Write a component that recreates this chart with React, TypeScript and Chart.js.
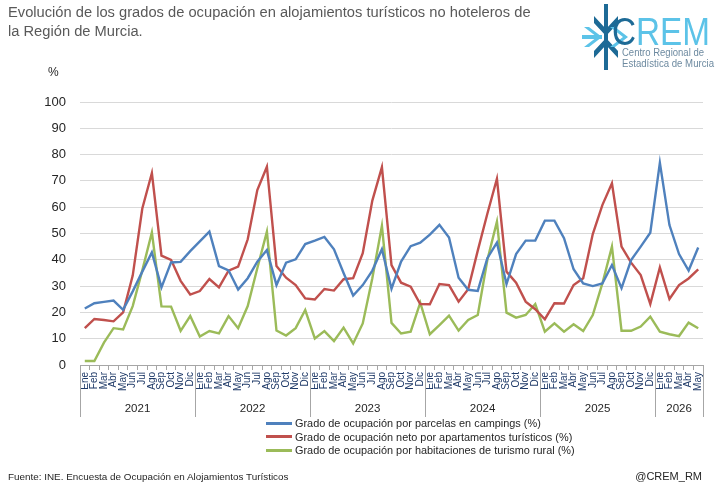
import React, { useEffect, useRef } from "react";
import { Chart, registerables } from "chart.js";

Chart.register(...registerables);

// ---------- DATA ----------
const MONTHS = ["Ene", "Feb", "Mar", "Abr", "May", "Jun", "Jul", "Ago", "Sep", "Oct", "Nov", "Dic"];
const YEARS = ["2021", "2022", "2023", "2024", "2025", "2026"];
const MONTHS_IN_LAST_YEAR = 5;

const monthLabels: string[] = [];
YEARS.forEach((_, k) => {
  const count = k === YEARS.length - 1 ? MONTHS_IN_LAST_YEAR : 12;
  for (let m = 0; m < count; m++) monthLabels.push(MONTHS[m]);
});

// Grado de ocupación por parcelas en campings (%)
const campings = [
  21.5, 23.5, 24, 24.5, 21, 28, 35.5, 42.8, 29.5, 39, 39.2, 43.3,
  47, 50.7, 37.6, 36, 28.7, 33, 39.3, 43.7, 30.4, 38.9, 40.2, 46,
  47.3, 48.7, 44, 35, 26.4, 30.4, 35.9, 44, 29, 39.3, 45.2, 46.5,
  49.6, 53.3, 48.5, 33.2, 28.6, 28.2, 40.6, 46.5, 30.8, 42.2, 47.3, 47.3,
  54.9, 54.9, 48.2, 36.4, 31, 30, 31, 38, 29.2, 39.9, 45, 50.3,
  76.9, 53.2, 42.2, 35.9, 44.7,
];

// Grado de ocupación neto por apartamentos turísticos (%)
const apartamentos = [
  14, 17.5, 17.1, 16.6, 20, 34, 59.5, 73, 41.6, 40, 32, 26.8,
  28.1, 32.7, 29.5, 35.9, 37.4, 47.8, 66.5, 75.4, 37.6, 33.2, 30.4, 25.3,
  24.9, 28.9, 28.3, 32.6, 33, 42.5, 62.5, 75.2, 38, 31.3, 29.8, 23.2,
  23.1, 30.8, 30.4, 24.1, 28.8, 43.5, 57.5, 70.8, 35.5, 31.3, 24.1, 21.2,
  17.4, 23.5, 23.4, 30.4, 33, 49.8, 60.8, 69.1, 45, 38.9, 34.2, 23.2,
  37.1, 25.1, 30.4, 32.9, 36.4,
];

// Grado de ocupación por habitaciones de turismo rural (%)
const rural = [
  1.5, 1.5, 8.5, 14, 13.5, 22.4, 36, 50.4, 22.3, 22.2, 13, 18.6,
  10.8, 12.9, 12, 18.6, 14, 22.4, 36.8, 50.7, 13.1, 11.2, 14, 20.9,
  10.1, 12.9, 9.1, 14.2, 8.2, 15.8, 33, 52.9, 16, 12, 12.7, 23.7,
  11.7, 15.2, 18.8, 13.1, 17.1, 19, 39.9, 54.5, 19.9, 18, 19, 23.2,
  12.7, 15.8, 12.7, 15.5, 12.9, 19, 31, 45, 13, 13, 14.6, 18.4,
  12.7, 11.7, 11, 16.1, 14,
];

const SERIES_LABELS = [
  "Grado de ocupación por parcelas en campings (%)",
  "Grado de ocupación neto por apartamentos turísticos (%)",
  "Grado de ocupación por habitaciones de turismo rural (%)",
];
const SERIES_VALUES = [campings, apartamentos, rural];
const SERIES_COLORS = ["#4F81BD", "#C0504D", "#9BBB59"];

const Y_MIN = 0;
const Y_MAX = 100;
const Y_STEP = 10;

const TITLE_LINES = [
  "Evolución de los grados de ocupación en alojamientos turísticos no hoteleros de",
  "la Región de Murcia.",
];
const SOURCE = "Fuente: INE. Encuesta de Ocupación en Alojamientos Turísticos";
const HANDLE = "@CREM_RM";

const FONT = "'Liberation Sans', Arial, sans-serif";
const AXIS_COLOR = "#a6a6a6";

// ---------- year grouping plugin ----------
const yearPlugin = {
  id: "yearGroups",
  afterDraw(chart: any) {
    const xs = chart.scales.x;
    const ctx = chart.ctx;
    const n = monthLabels.length;
    const w = xs.getPixelForValue(1) - xs.getPixelForValue(0);
    const boundary = (i: number) =>
      i >= n ? xs.getPixelForValue(n - 1) + w / 2 : xs.getPixelForValue(i) - w / 2;
    ctx.save();
    ctx.strokeStyle = AXIS_COLOR;
    ctx.lineWidth = 1;
    ctx.fillStyle = "#262626";
    ctx.font = `11.5px ${FONT}`;
    ctx.textAlign = "center";
    ctx.textBaseline = "middle";
    let start = 0;
    const bounds: number[] = [0];
    YEARS.forEach((y, k) => {
      const count = k === YEARS.length - 1 ? MONTHS_IN_LAST_YEAR : 12;
      const end = start + count;
      const x0 = boundary(start);
      const x1 = boundary(end);
      ctx.fillText(y, (x0 + x1) / 2, xs.top + 44);
      bounds.push(end);
      start = end;
    });
    bounds.forEach((b) => {
      const x = Math.round(boundary(b)) + 0.5;
      ctx.beginPath();
      ctx.moveTo(x, xs.top);
      ctx.lineTo(x, xs.top + 52);
      ctx.stroke();
    });
    ctx.restore();
  },
};

function Logo() {
  const dark = "#1d6a96";
  const light = "#5cc3e8";
  return (
    <svg width={140} height={72} viewBox="0 0 140 72" style={{ position: "absolute", left: 578, top: 2 }}>
      <rect x={26} y={2} width={4} height={66} fill={dark} />
      <polygon points="16,14 28,27 40,14 40,21 28,34 16,21" fill={dark} />
      <polygon points="16,56 28,43 40,56 40,49 28,36 16,49" fill={dark} />
      <rect x={4} y={33} width={20} height={4} fill={light} />
      <polygon points="6,25 19,35 6,45 11,45 24,35 11,25" fill={light} />
      <polygon points="32,25 45,35 32,45 37,45 50,35 37,25" fill={light} />
      <text x={34} y={43} fontFamily={FONT} fontSize={38} textLength={98} lengthAdjust="spacingAndGlyphs">
        <tspan fill={dark}>C</tspan>
        <tspan fill={light}>REM</tspan>
      </text>
      <text x={44} y={54} fontFamily={FONT} fontSize={10} fill="#6d8aa0" textLength={82} lengthAdjust="spacingAndGlyphs">
        Centro Regional de
      </text>
      <text x={44} y={65} fontFamily={FONT} fontSize={10} fill="#6d8aa0" textLength={92} lengthAdjust="spacingAndGlyphs">
        Estadística de Murcia
      </text>
    </svg>
  );
}

export default function App() {
  const canvasRef = useRef<HTMLCanvasElement | null>(null);

  useEffect(() => {
    if (!canvasRef.current) return;
    Chart.defaults.font.family = FONT;
    const chart = new Chart(canvasRef.current, {
      type: "line",
      data: {
        labels: monthLabels,
        datasets: SERIES_VALUES.map((vals, i) => ({
          label: SERIES_LABELS[i],
          data: vals,
          borderColor: SERIES_COLORS[i],
          backgroundColor: SERIES_COLORS[i],
          borderWidth: 2.4,
          pointRadius: 0,
          pointHoverRadius: 0,
          tension: 0,
          fill: false,
        })),
      },
      options: {
        animation: false,
        responsive: false,
        maintainAspectRatio: false,
        events: [],
        layout: { padding: { left: 0, right: 16, top: 102, bottom: 0 } },
        plugins: {
          legend: { display: false },
          title: { display: false },
          tooltip: { enabled: false },
        },
        scales: {
          x: {
            type: "category",
            offset: true,
            grid: {
              display: true,
              drawOnChartArea: false,
              drawTicks: true,
              tickLength: 5,
              offset: true,
              color: AXIS_COLOR,
            },
            border: { display: true, color: AXIS_COLOR },
            ticks: {
              autoSkip: false,
              minRotation: 90,
              maxRotation: 90,
              padding: 2,
              color: "#1f3a68",
              font: { size: 10, family: FONT },
            },
            afterFit: (scale: any) => {
              scale.height = 127;
            },
          },
          y: {
            min: Y_MIN,
            max: Y_MAX,
            ticks: {
              stepSize: Y_STEP,
              padding: 14,
              color: "#262626",
              font: { size: 13, family: FONT },
            },
            grid: { color: "#d9d9d9", drawTicks: false, lineWidth: 1 },
            border: { display: false },
            afterFit: (scale: any) => {
              scale.width = 80;
            },
          },
        },
      },
      plugins: [yearPlugin],
    });
    return () => chart.destroy();
  }, []);

  return (
    <div style={{ position: "absolute", left: 0, top: 0, width: 719, height: 492, background: "#fff", overflow: "hidden", fontFamily: FONT }}>
      <canvas ref={canvasRef} width={719} height={492} style={{ position: "absolute", left: 0, top: 0 }} />
      <div style={{ position: "absolute", left: 8, top: 3, fontSize: 14.7, lineHeight: "19px", color: "#595959", whiteSpace: "nowrap" }}>
        {TITLE_LINES.map((l, i) => (
          <div key={i}>{l}</div>
        ))}
      </div>
      <Logo />
      <div style={{ position: "absolute", left: 48, top: 65, fontSize: 12, color: "#262626" }}>%</div>
      {SERIES_LABELS.map((l, i) => (
        <div key={i} style={{ position: "absolute", left: 266, top: 416 + i * 13.7, height: 14, display: "flex", alignItems: "center", whiteSpace: "nowrap" }}>
          <div style={{ width: 26, height: 3, background: SERIES_COLORS[i], marginRight: 3 }} />
          <span style={{ fontSize: 10.9, color: "#262626" }}>{l}</span>
        </div>
      ))}
      <div style={{ position: "absolute", left: 8, top: 471, fontSize: 9.9, color: "#262626", whiteSpace: "nowrap" }}>{SOURCE}</div>
      <div style={{ position: "absolute", right: 17, top: 470, fontSize: 11, color: "#262626", whiteSpace: "nowrap" }}>{HANDLE}</div>
    </div>
  );
}
